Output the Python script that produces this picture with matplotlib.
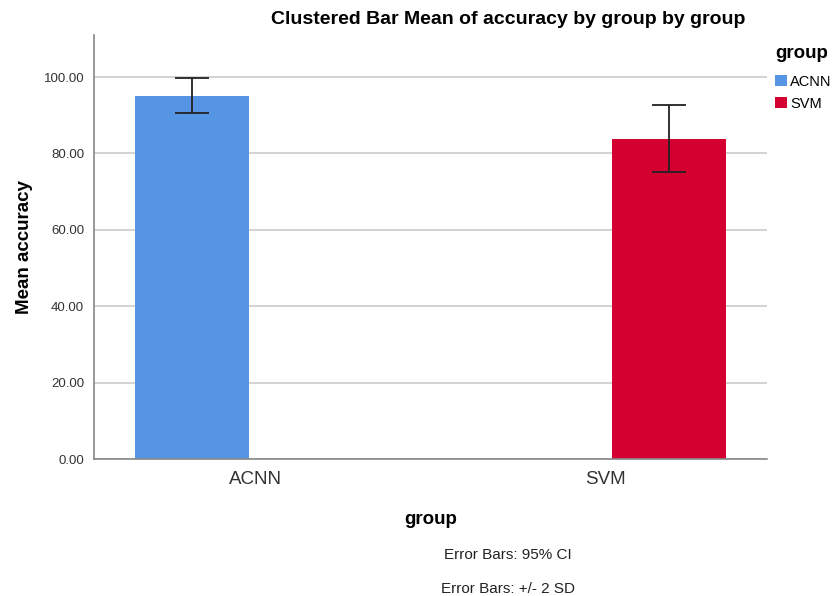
import matplotlib
matplotlib.use("Agg")
import matplotlib.pyplot as plt
from matplotlib.patches import Patch

plt.rcParams['font.family'] = ['Liberation Sans', 'DejaVu Sans']

groups = ["ACNN", "SVM"]
means = [95.0, 83.8]
err_low = [90.6, 75.1]
err_high = [99.7, 92.7]
colors = ["#5694E4", "#D40030"]
yticks = [0, 20, 40, 60, 80, 100]

fig = plt.figure(figsize=(8.33, 5.96), dpi=100)
ax = fig.add_axes([94/833, 1-459/596, (767-94)/833, (459-35)/596])

# clustered layout: each category cluster holds one slot per group
n = len(groups)
slot = 0.366
cat_pos = list(range(n))
bar_x = [c + (i - (n - 1) / 2) * slot for i, c in enumerate(cat_pos)]

yerr = [[m - l for m, l in zip(means, err_low)], [h - m for m, h in zip(means, err_high)]]
ax.bar(bar_x, means, width=0.327, color=colors, zorder=2)
ax.errorbar(bar_x, means, yerr=yerr, fmt='none', ecolor='#222222', elinewidth=1.3,
            capsize=12, capthick=1.3, zorder=3)

ax.set_xlim(-0.464, 1.464)
ax.set_ylim(0, 111)
ax.set_yticks(yticks)
ax.set_yticklabels([f"{v:.2f}" for v in yticks], fontsize=9.5, color='#333333')
ax.set_xticks(cat_pos)
ax.set_xticklabels(groups, fontsize=13.5, color='#333333')
ax.tick_params(axis='y', length=0, pad=7)
ax.tick_params(axis='x', length=0, pad=9)
ax.yaxis.grid(True, color='#CCCCCC', linewidth=1.2, zorder=0)
ax.set_axisbelow(True)
for s in ['top', 'right']:
    ax.spines[s].set_visible(False)
for s in ['left', 'bottom']:
    ax.spines[s].set_color('#888888')
    ax.spines[s].set_linewidth(1.2)

ax.set_ylabel("Mean accuracy", fontsize=13.5, fontweight='bold', labelpad=8)
ax.set_xlabel("group", fontsize=13.5, fontweight='bold', labelpad=16)

fig.text(508/833, 1-19/596, "Clustered Bar Mean of accuracy by group by group",
         ha='center', va='center', fontsize=14, fontweight='bold')
fig.text(508/833, 1-555/596, "Error Bars: 95% CI", ha='center', va='center', fontsize=11, color='#222222')
fig.text(508/833, 1-589/596, "Error Bars: +/- 2 SD", ha='center', va='center', fontsize=11, color='#222222')

handles = [Patch(facecolor=c, label=g) for c, g in zip(colors, groups)]
leg = fig.legend(handles=handles, title="group", loc='upper left',
                 bbox_to_anchor=(775/833, 1-45/596), frameon=False,
                 fontsize=10.5, title_fontproperties={'weight': 'bold', 'size': 13.5},
                 handlelength=0.85, handleheight=0.85, handletextpad=0.2,
                 labelspacing=0.55, borderaxespad=0, borderpad=0)
leg._legend_box.align = 'left'
leg._legend_box.sep = 9

fig.savefig("out.png", dpi=100)
